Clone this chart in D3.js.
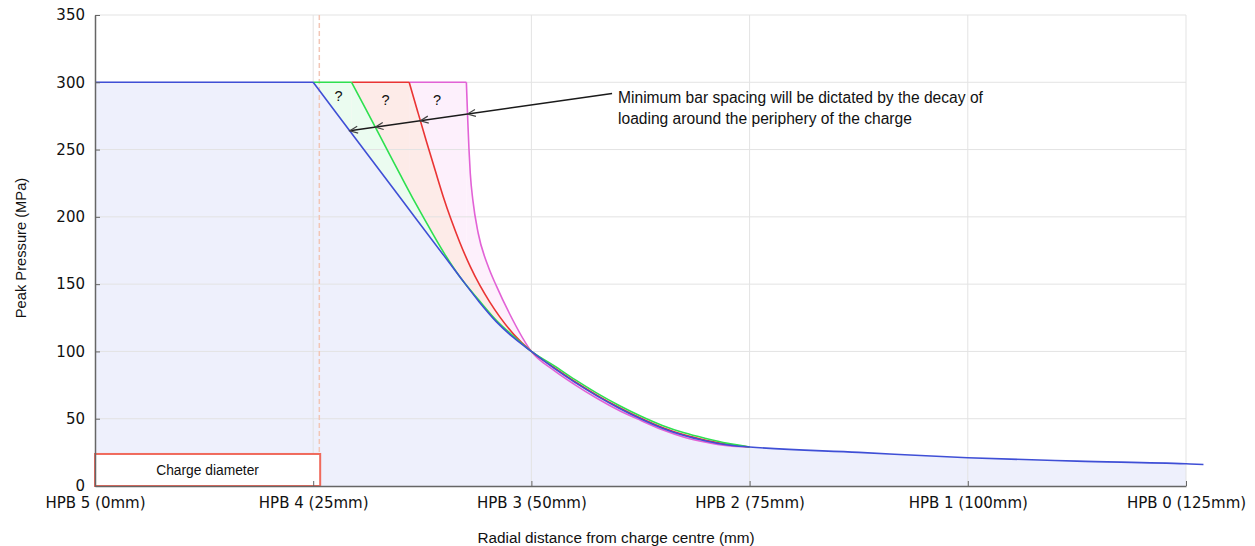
<!DOCTYPE html>
<html><head><meta charset="utf-8">
<script src="https://cdn.jsdelivr.net/npm/d3@7"></script>
<style>body{margin:0;background:#fff}svg{display:block}</style>
</head><body>
<svg id="c" width="1255" height="546"></svg>
<script>
// ---- data ----
const xTickValues = [0, 25, 50, 75, 100, 125];
const xTickLabels = ["HPB 5 (0mm)", "HPB 4 (25mm)", "HPB 3 (50mm)", "HPB 2 (75mm)", "HPB 1 (100mm)", "HPB 0 (125mm)"];
const yTickValues = [0, 50, 100, 150, 200, 250, 300, 350];

const blueMm = [0, 25, 30, 35, 40, 41.8, 44, 46, 48, 50, 52.5, 55, 57.5, 60, 62.5, 65, 67.5, 70, 72.5, 75, 87.5, 100, 112.5, 125, 127];
const blueP  = [300, 300, 257, 214, 171, 155.5, 137, 122, 110, 100, 88, 77, 67, 58, 50, 43, 37.5, 33.5, 30.5, 29, 25, 21, 18.5, 16.5, 16];

const greenMm = [25, 29.4, 31, 33.3, 35, 36.4, 37.6, 40, 41.8, 44, 46, 48, 50, 52.5, 55, 57.5, 60, 62.5, 65, 67.5, 70, 72.5, 75];
const greenP  = [300, 300, 280.5, 252, 231, 214, 200, 173, 155.5, 138, 123, 111, 100, 89.8, 79, 69, 60, 52, 45, 39.5, 35.3, 31.7, 29];

const redMm = [29.4, 36, 37, 38, 39, 39.9, 40.8, 41.8, 43, 44.1, 45.2, 46.4, 48, 50, 52.5, 55, 57.5, 60, 62.5, 65, 67.5, 70, 72.5, 75];
const redP  = [300, 300, 277.6, 255.5, 234, 215, 198, 181, 163, 149, 137, 125.5, 112.5, 100, 88.5, 77.5, 67.5, 58.5, 50.5, 43.5, 38, 34, 31, 29];

const magentaMm = [36, 42.55, 42.7, 42.85, 43.0, 43.3, 43.9, 45, 46, 47.5, 50, 52.5, 55, 57.5, 60, 62.5, 65, 67.5, 70, 72.5, 75];
const magentaP  = [300, 300, 273, 250, 232, 212, 188, 164, 148.5, 128, 100, 86.3, 75.2, 65.2, 56.3, 48.8, 41.8, 36.3, 32.6, 30, 29];

const chargeDiameterMm = 25.8;   // charge box width
const chargeBoxP = 23.8;         // charge box height (MPa units)
const dashedMm = 25.7;
const questionMarks = [[27.9, 290], [33.3, 286.5], [39.2, 286.5]];
const arrowStart = [59.24, 291.7];
const arrowEnd = [29.0, 263.8];
const noteLines = ["Minimum bar spacing will be dictated by the decay of", "loading around the periphery of the charge"];

// ---- scales ----
const svg = d3.select("#c");
const x = d3.scaleLinear().domain([0, 125]).range([95, 1186]);
const y = d3.scaleLinear().domain([0, 350]).range([486, 15]);
const FONT = "Liberation Sans, Arial, sans-serif";

const series = [
  {name: "magenta", mm: magentaMm, p: magentaP, line: "#e262d6", fill: "#fdf0fc"},
  {name: "red", mm: redMm, p: redP, line: "#ea3434", fill: "#fdebe8"},
  {name: "green", mm: greenMm, p: greenP, line: "#2ee050", fill: "#ebfcf0"},
  {name: "blue", mm: blueMm, p: blueP, line: "#3f4fd6", fill: "#eef0fc"}
];
series.forEach(s => {
  s.pts = s.mm.map((m, i) => [m, s.p[i]]);
  let k = 0;
  while (k + 1 < s.pts.length && s.pts[k + 1][1] === s.pts[0][1]) k++;
  s.flat = s.pts.slice(0, k + 1);
  s.desc = s.pts.slice(k);
});

const areaCurve = d3.area().x(d => x(d[0])).y0(y(0)).y1(d => y(d[1])).curve(d3.curveMonotoneX);
const areaLin = d3.area().x(d => x(d[0])).y0(y(0)).y1(d => y(d[1]));
const lineCurve = d3.line().x(d => x(d[0])).y(d => y(d[1])).curve(d3.curveMonotoneX);
const lineLin = d3.line().x(d => x(d[0])).y(d => y(d[1]));

// fills
const gF = svg.append("g");
series.forEach(s => {
  const desc = s.name === "blue" ? s.desc.filter(d => d[0] <= 125) : s.desc.filter(d => d[0] <= 50);
  gF.append("path").attr("d", areaLin(s.flat)).attr("fill", s.fill);
  gF.append("path").attr("d", areaCurve(desc)).attr("fill", s.fill);
});

// gridlines
const gG = svg.append("g").attr("stroke", "#e3e3e3").attr("stroke-width", 1);
yTickValues.filter(v => v > 0).forEach(v => {
  gG.append("line").attr("x1", x(0)).attr("x2", x(125)).attr("y1", y(v)).attr("y2", y(v));
});
xTickValues.filter(v => v > 0).forEach(v => {
  gG.append("line").attr("x1", x(v)).attr("x2", x(v)).attr("y1", y(0)).attr("y2", y(350));
});

// dashed line
svg.append("line").attr("x1", x(dashedMm)).attr("x2", x(dashedMm)).attr("y1", y(350)).attr("y2", y(0))
  .attr("stroke", "#f2c6b6").attr("stroke-width", 1.5).attr("stroke-dasharray", "5,3");

// charge box
svg.append("rect").attr("x", x(0)).attr("y", y(chargeBoxP))
  .attr("width", x(chargeDiameterMm) - x(0)).attr("height", y(0) - y(chargeBoxP))
  .attr("fill", "#fff").attr("stroke", "#f06a5c").attr("stroke-width", 2);
svg.append("text").attr("x", (x(0) + x(chargeDiameterMm)) / 2).attr("y", y(chargeBoxP / 2) + 5)
  .attr("text-anchor", "middle").attr("font-family", FONT)
  .attr("font-size", 13.8).attr("fill", "#111").text("Charge diameter");

// lines
series.forEach(s => {
  svg.append("path").attr("d", lineLin(s.flat)).attr("fill", "none").attr("stroke", s.line).attr("stroke-width", 1.6);
  svg.append("path").attr("d", lineCurve(s.desc)).attr("fill", "none").attr("stroke", s.line).attr("stroke-width", 1.6);
});

// question marks
questionMarks.forEach(q => {
  svg.append("text").attr("x", x(q[0])).attr("y", y(q[1]) + 5).attr("text-anchor", "middle")
    .attr("font-family", FONT).attr("font-size", 14.5).attr("fill", "#111").text("?");
});

// arrow with arrowheads where it crosses each curve
function arrowV(m) {
  return arrowEnd[1] + (m - arrowEnd[0]) * (arrowStart[1] - arrowEnd[1]) / (arrowStart[0] - arrowEnd[0]);
}
function crossing(s) {
  for (let i = 0; i + 1 < s.pts.length; i++) {
    const a = s.pts[i], b = s.pts[i + 1];
    const fa = a[1] - arrowV(a[0]), fb = b[1] - arrowV(b[0]);
    if (fa >= 0 && fb < 0) {
      const t = fa / (fa - fb);
      return a[0] + t * (b[0] - a[0]);
    }
  }
  return null;
}
const ax0 = x(arrowStart[0]), ay0 = y(arrowStart[1]);
const heads = series.map(crossing).filter(v => v !== null);
const endMm = d3.min(heads);
svg.append("line").attr("x1", ax0).attr("y1", ay0).attr("x2", x(endMm)).attr("y2", y(arrowV(endMm)))
  .attr("stroke", "#1a1a1a").attr("stroke-width", 1.6);
const dx = ax0 - x(endMm), dy = ay0 - y(arrowV(endMm));
const L = Math.hypot(dx, dy), ux = dx / L, uy = dy / L, px = -uy, py = ux;
heads.forEach(m => {
  const tx = x(m), ty = y(arrowV(m));
  const len = 8, w = 3.5;
  svg.append("path")
    .attr("d", `M${tx + ux * len + px * w},${ty + uy * len + py * w}L${tx},${ty}L${tx + ux * len - px * w},${ty + uy * len - py * w}`)
    .attr("fill", "none").attr("stroke", "#444").attr("stroke-width", 1.2);
});
noteLines.forEach((t, i) => {
  svg.append("text").attr("x", 618).attr("y", 103 + i * 21)
    .attr("font-family", FONT).attr("font-size", 15.6).attr("fill", "#111").text(t);
});

// axes
const yAxis = d3.axisLeft(y).tickValues(yTickValues).tickSizeInner(-5).tickSizeOuter(0).tickPadding(10);
const xAxis = d3.axisBottom(x).tickValues(xTickValues).tickFormat((d, i) => xTickLabels[i])
  .tickSizeInner(-5).tickSizeOuter(0).tickPadding(11);
const gy = svg.append("g").attr("transform", `translate(${x(0)},0)`).call(yAxis);
const gx = svg.append("g").attr("transform", `translate(0,${y(0)})`).call(xAxis);
[gx, gy].forEach(g => {
  g.select(".domain").attr("stroke", "#666").attr("stroke-width", 1.5);
  g.selectAll(".tick line").attr("stroke", "#666");
  g.selectAll("text").attr("font-family", "DejaVu Sans, sans-serif").attr("font-size", 15).attr("fill", "#111");
});

// axis titles
svg.append("text").attr("x", 616).attr("y", 543).attr("text-anchor", "middle")
  .attr("font-family", FONT).attr("font-size", 15.3).attr("fill", "#111")
  .text("Radial distance from charge centre (mm)");
svg.append("text").attr("transform", "translate(26,248) rotate(-90)").attr("text-anchor", "middle")
  .attr("font-family", FONT).attr("font-size", 14.7).attr("fill", "#111")
  .text("Peak Pressure (MPa)");
</script>
</body></html>
